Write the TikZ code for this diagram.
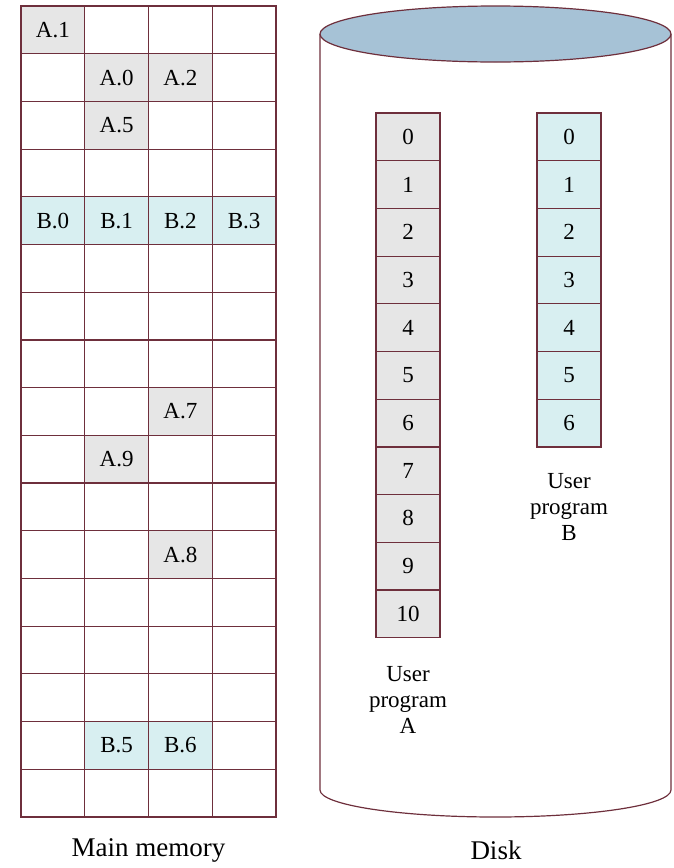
\documentclass[tikz,border=0pt]{standalone}
\usepackage{fontspec}
\setmainfont{Liberation Serif}
\usepackage{tikz}
\usetikzlibrary{positioning}

\definecolor{gridline}{HTML}{6E2F3C}
\definecolor{pagegray}{HTML}{E6E6E6}
\definecolor{pagecyan}{HTML}{D8EFF1}
\definecolor{diskblue}{HTML}{A6C2D6}

\begin{document}
\begin{tikzpicture}[
  x=1pt, y=-1pt,
  font=\fontsize{23}{25}\selectfont,
  memcell/.style={draw=gridline, line width=1.2pt, minimum width=63.75pt, minimum height=47.7pt, inner sep=0pt, outer sep=0pt},
  pagea/.style={memcell, fill=pagegray},
  pageb/.style={memcell, fill=pagecyan},
  diskcell/.style={draw=gridline, line width=1.2pt, minimum width=64pt, minimum height=47.7pt, inner sep=0pt, outer sep=0pt},
  caption/.style={font=\fontsize{27}{30}\selectfont},
  proglabel/.style={align=center, font=\fontsize{23}{26}\selectfont}
]
\useasboundingbox (0,0) rectangle (673,868);

% main memory frames
\foreach \r in {0,...,16}
  \foreach \c in {0,...,3}
    \node[memcell] (m-\r-\c) at ({52.9+\c*63.75},{29.85+\r*47.7}) {};

% pages of A and B held in memory
\node[pagea] (a1) at (m-0-0) {A.1};
\node[pagea] (a0) at (m-1-1) {A.0};
\node[pagea] (a2) at (m-1-2) {A.2};
\node[pagea] (a5) at (m-2-1) {A.5};
\node[pageb] (b0) at (m-4-0) {B.0};
\node[pageb] (b1) at (m-4-1) {B.1};
\node[pageb] (b2) at (m-4-2) {B.2};
\node[pageb] (b3) at (m-4-3) {B.3};
\node[pagea] (a7) at (m-8-2) {A.7};
\node[pagea] (a9) at (m-9-1) {A.9};
\node[pagea] (a8) at (m-11-2) {A.8};
\node[pageb] (b5) at (m-15-1) {B.5};
\node[pageb] (b6) at (m-15-2) {B.6};

\node[caption] (memlabel) at (148.5,850) {Main memory};

% disk
\draw[gridline, line width=1.2pt] (320,34) -- (320,790)
  arc[start angle=180, end angle=0, x radius=175.5, y radius=27] -- (671,34);
\draw[gridline, line width=1.2pt, fill=diskblue] (495.5,34) ellipse[x radius=175.5, y radius=28];

\foreach \k in {0,...,10}
  \node[diskcell, fill=pagegray] (da-\k) at (408,{136.85+\k*47.7}) {\k};
\foreach \k in {0,...,6}
  \node[diskcell, fill=pagecyan] (db-\k) at (569,{136.85+\k*47.7}) {\k};

\node[proglabel] (proga) at (408,700) {User\\program\\A};
\node[proglabel] (progb) at (569,507) {User\\program\\B};

\node[caption] (disklabel) at (496,850) {Disk};
\end{tikzpicture}
\end{document}
